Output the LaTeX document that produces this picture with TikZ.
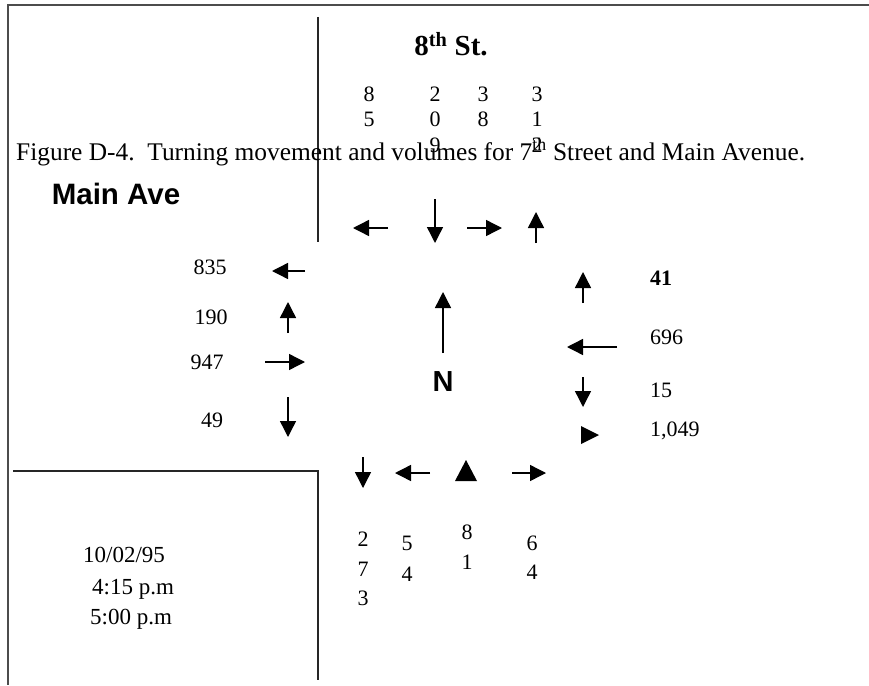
\documentclass[tikz,border=0pt]{standalone}
\usepackage{fontspec}
\setmainfont{Liberation Serif}
\setsansfont{Liberation Sans}
\usetikzlibrary{arrows.meta}
\begin{document}
\begin{tikzpicture}[x=1pt,y=-1pt,
  frame/.style={line width=2pt,draw=black!70},
  curb/.style={line width=1.5pt,draw=black!85},
  mv/.style={line width=1.4pt,-{Triangle[length=16pt,width=16pt]}},
  tri/.style={fill=black},
  vol/.style={font=\fontsize{22}{24}\selectfont,inner sep=0pt},
  lbl/.style={font=\fontsize{23}{26}\selectfont,inner sep=0pt}]
\useasboundingbox (0,0) rectangle (869,685);
\fill[white] (0,0) rectangle (869,685);

% outer frame
\draw[frame] (869,5) -- (8,5) -- (8,685);
% street edges
\draw[curb] (318,17) -- (318,242);
\draw[curb] (13,471) -- (318,471) -- (318,680);

% street names
\node[inner sep=0pt,font=\bfseries\fontsize{29}{32}\selectfont] (st8) at (451,44) {8\textsuperscript{th} St.};
\node[inner sep=0pt,font=\sffamily\bfseries\fontsize{29.5}{32}\selectfont] (main) at (116,194) {Main Ave};

% caption
\node[inner sep=0pt,anchor=base west,font=\fontsize{25.4}{28}\selectfont] (cap) at (16,160)
  {Figure D-4.\ \ Turning movement and volumes for 7\textsuperscript{th} Street and Main Avenue.};

% northbound-approach volumes (top)
\node[vol] (t1a) at (369,94) {8};
\node[vol] (t1b) at (369,119) {5};
\node[vol] (t2a) at (435,94) {2};
\node[vol] (t2b) at (435,119) {0};
\node[vol] (t2c) at (435,145) {9};
\node[vol] (t3a) at (483,94) {3};
\node[vol] (t3b) at (483,119) {8};
\node[vol] (t4a) at (537,94) {3};
\node[vol] (t4b) at (537,119) {1};
\node[vol] (t4c) at (537,145) {2};

% top movement arrows
\draw[mv] (388,228) -- (353,228);
\draw[mv] (435,199) -- (435,243);
\draw[mv] (467,228) -- (502,228);
\draw[mv] (536,243) -- (536,212);

% west side
\node[vol] (w1) at (210,267) {835};
\node[vol] (w2) at (211,317) {190};
\node[vol] (w3) at (207,362) {947};
\node[vol] (w4) at (212,420) {49};
\draw[mv] (305,271) -- (272,271);
\draw[mv] (288,333) -- (288,302);
\draw[mv] (265,362) -- (305,362);
\draw[mv] (288,397) -- (288,437);

% east side
\draw[mv] (583,303) -- (583,272);
\draw[mv] (617,347) -- (567,347);
\draw[mv] (583,377) -- (583,407);
\fill[tri] (581,426) -- (599,435) -- (581,444) -- cycle;
\node[vol,anchor=west,font=\bfseries\fontsize{22}{24}\selectfont] (e1) at (650,278) {41};
\node[vol,anchor=west] (e2) at (650,337) {696};
\node[vol,anchor=west] (e3) at (650,390) {15};
\node[vol,anchor=west] (e4) at (650,431) {1,049};

% north arrow
\draw[mv] (443,353) -- (443,292);
\node[inner sep=0pt,font=\sffamily\bfseries\fontsize{29}{32}\selectfont] (north) at (443,382) {N};

% bottom movement arrows
\draw[mv] (363,457) -- (363,488);
\draw[mv] (430,473) -- (395,473);
\fill[tri] (455,481) -- (466,460) -- (477,481) -- cycle;
\draw[mv] (512,473) -- (546,473);

% southbound-approach volumes (bottom)
\node[vol] (b1a) at (363,539) {2};
\node[vol] (b1b) at (363,569) {7};
\node[vol] (b1c) at (363,598) {3};
\node[vol] (b2a) at (407,543) {5};
\node[vol] (b2b) at (407,574) {4};
\node[vol] (b3a) at (467,532) {8};
\node[vol] (b3b) at (467,562) {1};
\node[vol] (b4a) at (532,543) {6};
\node[vol] (b4b) at (532,572) {4};

% count date and period
\node[lbl,anchor=west] (date) at (83,555) {10/02/95};
\node[lbl,anchor=west] (from) at (92,589) {4:15 p.m};
\node[lbl,anchor=west] (to) at (90,619) {5:00 p.m};
\end{tikzpicture}
\end{document}
